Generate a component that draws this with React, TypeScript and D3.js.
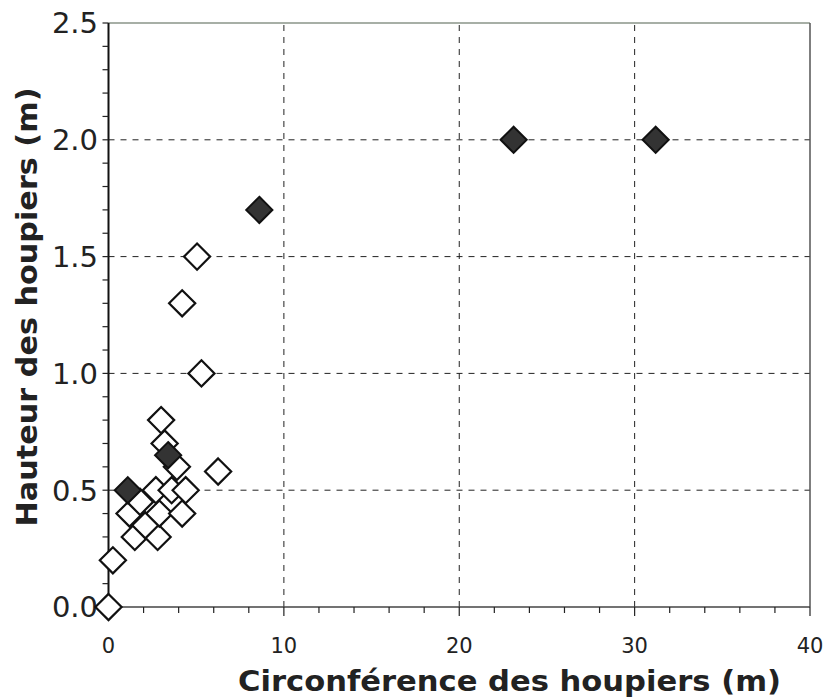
import React from "react";
import * as d3 from "d3";

// Open diamonds
const openX = [0, 0.25, 1.5, 2.8, 2.1, 1.2, 2.9, 4.2, 1.8, 2.7, 3.6, 4.4, 6.25, 3.9, 3.2, 3.0, 5.3, 4.2, 5.05];
const openY = [0, 0.2, 0.3, 0.3, 0.35, 0.4, 0.4, 0.4, 0.45, 0.5, 0.5, 0.5, 0.58, 0.6, 0.7, 0.8, 1.0, 1.3, 1.5];

// Filled diamonds
const filledX = [1.1, 3.4, 8.6, 23.1, 31.2];
const filledY = [0.5, 0.65, 1.7, 2.0, 2.0];

const xTicks = [0, 10, 20, 30, 40];
const yTicks = [0, 0.5, 1.0, 1.5, 2.0, 2.5];

const W = 826;
const H = 699;

export default function App() {
  const x = d3.scaleLinear().domain([0, 40]).range([108.5, 810]);
  const y = d3.scaleLinear().domain([0, 2.5]).range([607, 23]);
  const [x0, x1] = x.range();
  const [y0, y1] = y.range();

  const side = 18.5;
  const h = side / Math.SQRT2;
  const diamond = (cx: number, cy: number) =>
    `M${cx},${cy - h}L${cx + h},${cy}L${cx},${cy + h}L${cx - h},${cy}Z`;

  const xMinor = d3.range(0, 40.01, 2);
  const yMinor = d3.range(0, 2.501, 0.1);
  const font = "Verdana, 'DejaVu Sans', sans-serif";

  const open = openX.map((v, i) => ({ x: v, y: openY[i] }));
  const filled = filledX.map((v, i) => ({ x: v, y: filledY[i] }));

  return (
    <svg width={W} height={H} style={{ position: "absolute", left: 0, top: 0, background: "#fff" }}>
      {/* grid */}
      {xTicks.slice(1, -1).map((t) => (
        <line key={"gx" + t} x1={x(t)} x2={x(t)} y1={y0} y2={y1} stroke="#222" strokeWidth={1} strokeDasharray="6,6" />
      ))}
      {yTicks.slice(1, -1).map((t) => (
        <line key={"gy" + t} x1={x0} x2={x1} y1={y(t)} y2={y(t)} stroke="#222" strokeWidth={1} strokeDasharray="6,6" />
      ))}

      {/* frame */}
      <line x1={x0} x2={x1} y1={y1} y2={y1} stroke="#8a9488" strokeWidth={1.5} />
      <line x1={x1} x2={x1} y1={y1} y2={y0} stroke="#555" strokeWidth={1.5} />
      <line x1={x0} x2={x1} y1={y0} y2={y0} stroke="#444" strokeWidth={1.5} />
      <line x1={x0} x2={x0} y1={y1} y2={y0} stroke="#111" strokeWidth={2} />

      {/* x ticks */}
      {xMinor.map((t) => (
        <line key={"xt" + t} x1={x(t)} x2={x(t)} y1={y0} y2={y0 + (t % 10 === 0 ? 9 : 6)} stroke="#222" strokeWidth={1.2} />
      ))}
      {/* y ticks */}
      {yMinor.map((t) => (
        <line key={"yt" + t.toFixed(1)} x1={x0 - 6} x2={x0} y1={y(t)} y2={y(t)} stroke="#222" strokeWidth={1.2} />
      ))}

      {xTicks.map((t) => (
        <text key={"xl" + t} x={x(t)} y={y0 + 46} textAnchor="middle" fontFamily={font} fontSize={21} fill="#222">
          {t}
        </text>
      ))}
      {yTicks.map((t) => (
        <text key={"yl" + t} x={98} y={y(t)} dy="0.36em" textAnchor="end" fontFamily={font} fontSize={29} fill="#222">
          {t.toFixed(1)}
        </text>
      ))}

      {/* axis titles */}
      <text x={509.5} y={691} textAnchor="middle" fontFamily={font} fontWeight="bold" fontSize={29} fill="#222"
        textLength={543} lengthAdjust="spacingAndGlyphs">
        Circonférence des houpiers (m)
      </text>
      <text
        transform={`translate(37,307) rotate(-90)`}
        textAnchor="middle"
        fontFamily={font}
        fontWeight="bold"
        fontSize={29}
        fill="#222"
        textLength={439}
        lengthAdjust="spacingAndGlyphs"
      >
        Hauteur des houpiers (m)
      </text>

      {/* points */}
      {open.map((d, i) => (
        <path key={"o" + i} d={diamond(x(d.x), y(d.y))} fill="#fff" stroke="#111" strokeWidth={2.2} />
      ))}
      {filled.map((d, i) => (
        <path key={"f" + i} d={diamond(x(d.x), y(d.y))} fill="#333" stroke="#111" strokeWidth={2} />
      ))}
    </svg>
  );
}
